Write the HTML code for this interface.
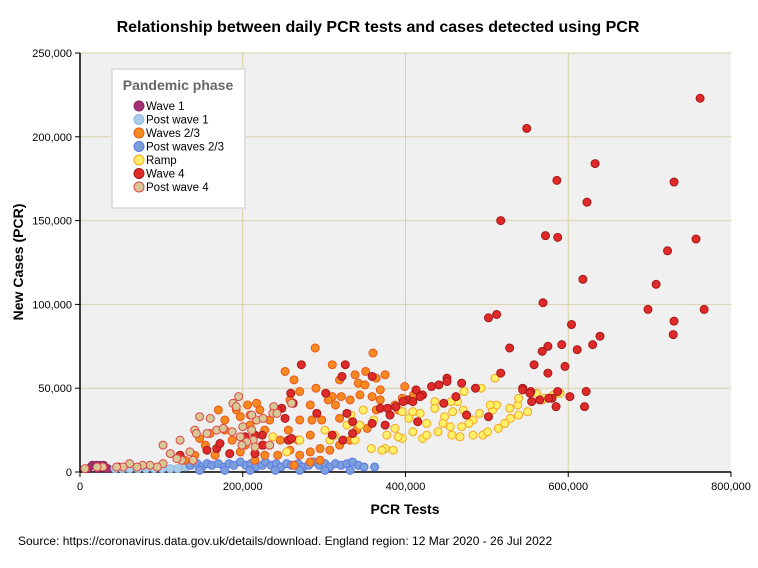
<!DOCTYPE html>
<html><head><meta charset="utf-8"><style>
body{margin:0;background:#fff;width:758px;height:563px;overflow:hidden;font-family:"Liberation Sans",sans-serif}
</style></head><body>
<svg id="chart" width="758" height="563" xmlns="http://www.w3.org/2000/svg" font-family="Liberation Sans, sans-serif">
<text x="378" y="32" text-anchor="middle" font-size="16" font-weight="bold">Relationship between daily PCR tests and cases detected using PCR</text>
<rect x="80" y="53" width="651" height="419" fill="#f0f0f0"/>
<g id="grid"></g><g id="axes"></g><g id="points"></g>
<text transform="translate(23,262) rotate(-90)" text-anchor="middle" font-size="14" font-weight="bold">New Cases (PCR)</text>
<text x="405" y="514" text-anchor="middle" font-size="14" font-weight="bold">PCR Tests</text>
<text x="18" y="545" font-size="12">Source: https://coronavirus.data.gov.uk/details/download. England region: 12 Mar 2020 - 26 Jul 2022</text>
<g id="legend"></g>
</svg>
<script>
const xTicks=[0,200000,400000,600000,800000];
const yTicks=[0,50000,100000,150000,200000,250000];
const seriesNames=["Wave 1","Post wave 1","Waves 2/3","Post waves 2/3","Ramp","Wave 4","Post wave 4"];
const fills=["#a3306f","#aacdea","#f78a1e","#7b9fd8","#fff068","#e02a2a","#d8c898"];
const strokes=["#8a2a66","#8fb8e0","#e8571e","#5c78ea","#f5a623","#a51818","#e04444"];
// values in thousands [tests, cases]
const wave1X=[10,15,20,25,29,22,34,47];
const wave1Y=[2,4,4,4,4,2,2,3];
const postWave1X=[43,52,61,71,81,91,101,111,120,130,139];
const postWave1Y=[2,2,2,2,2,2,2,2,2,3,4];
const postWaves23X=[135,144,150,156,162,170,177,183,189,197,204,210,216,224,228,235,241,247,254,260,268,274,281,287,294,301,307,314,321,328,335,342,349,362,147,178,209,240,270,301,332];
const postWaves23Y=[4,5,3,5,4,5,3,5,4,6,4,5,3,4,6,4,5,3,5,4,5,3,4,6,4,5,3,5,4,5,6,4,3,3,1,1,1,1,1,1,1];
const waves23X=[289,310,360,351,342,364,350,369,375,321,310,290,270,258,283,285,297,314,332,319,340,353,283,268,256,233,227,209,224,203,187,178,197,215,227,243,258,270,283,295,307,319,332,246,233,283,263,295,197,209,221,206,192,170,178,160,147,154,166,141,129,364,387,396,391,399,410,369,344,359,252,263,217,305,319,270,338];
const waves23Y=[74,64,71,60,53,56,52,49,58,45,45,50,48,43,40,31,31,40,43,32,25,26,22,19,25,31,25,28,16,16,19,25,12,7,10,10,13,10,12,14,13,16,19,19,16,6,4,7,33,34,37,40,37,37,31,23,20,16,10,10,7,37,40,44,37,51,46,43,46,45,60,55,41,43,55,31,58];
const rampX=[510,472,493,436,464,456,436,409,396,448,458,446,426,440,457,467,421,409,396,387,377,375,385,483,495,501,483,491,507,512,504,528,514,522,529,539,550,538,539,568,561,478,469,455,471,404,418,391,426,371,358,338,328,344,313,301,270,258,254,237,333,571,582,590,361,348,324,307];
const rampY=[56,48,50,42,42,42,38,36,36,33,36,29,29,24,22,21,20,24,20,26,22,14,13,22,22,24,31,35,37,40,40,38,26,29,32,34,36,40,44,43,47,29,27,27,37,32,35,21,22,13,14,19,28,28,22,25,19,19,12,21,34,44,46,47,31,37,19,19];
const wave4X=[762,549,633,586,730,517,623,572,587,618,722,698,757,708,569,502,512,767,730,604,639,611,575,592,528,568,729,558,630,575,544,554,602,587,580,620,622,596,565,451,451,517,469,432,441,413,421,418,486,462,447,544,553,555,576,585,403,409,397,388,475,502,415,381,375,322,302,328,335,359,369,378,248,252,262,291,310,323,335,224,215,225,256,260,215,184,168,172,156,123,203,272,326,359,259,243];
const wave4Y=[223,205,184,174,173,150,161,141,140,115,132,97,139,112,101,92,94,97,90,88,81,73,75,76,74,72,82,64,76,59,50,48,45,48,44,39,48,63,43,56,54,59,53,51,52,49,46,45,50,45,41,49,47,42,44,39,43,42,42,39,34,33,30,34,28,57,47,35,30,29,38,38,38,32,41,35,22,19,23,22,22,16,19,20,11,11,14,17,13,10,21,64,64,57,47,37];
const postWave4X=[195,188,192,141,143,156,168,176,187,200,211,217,211,225,238,237,242,260,213,205,199,135,125,119,111,139,102,95,86,77,70,61,53,45,28,21,6,197,215,233,147,160,123,102];
const postWave4Y=[45,41,39,25,23,23,25,26,24,27,25,31,34,32,39,35,35,41,19,18,16,12,7,8,11,7,5,3,4,4,3,5,3,3,3,3,2,21,15,16,33,32,19,16];
const allX=[wave1X,postWave1X,waves23X,postWaves23X,rampX,wave4X,postWave4X];
const allY=[wave1Y,postWave1Y,waves23Y,postWaves23Y,rampY,wave4Y,postWave4Y];
const drawOrder=[0,1,3,2,4,5,6];

const X0=80,X1=731,Y0=472,Y1=53;
const xs=v=>X0+(v/800000)*(X1-X0);
const ys=v=>Y0-(v/250000)*(Y0-Y1);
const NS="http://www.w3.org/2000/svg";
function mk(tag,attrs,parent){const e=document.createElementNS(NS,tag);for(const k in attrs)e.setAttribute(k,attrs[k]);parent.appendChild(e);return e;}
const grid=document.getElementById('grid'),axes=document.getElementById('axes'),pts=document.getElementById('points'),leg=document.getElementById('legend');
xTicks.forEach(t=>{
  if(t>0&&t<800000){const g=mk('line',{x1:xs(t),x2:xs(t),y1:Y1,y2:Y0,stroke:'#d8d2a6','stroke-width':1},grid);
  
  }
  const tk=mk('line',{x1:xs(t),x2:xs(t),y1:Y0,y2:Y0+5,stroke:'#000'},axes);
  
  
  const l=mk('text',{x:xs(t),y:Y0+18,'text-anchor':'middle','font-size':11},axes);
  l.textContent=t.toLocaleString('en-US');
  
  
});
yTicks.forEach(t=>{
  if(t>0){const g=mk('line',{x1:X0,x2:X1,y1:ys(t),y2:ys(t),stroke:'#d8d2a6','stroke-width':1},grid);
  
  }
  const tk=mk('line',{x1:X0-5,x2:X0,y1:ys(t),y2:ys(t),stroke:'#000'},axes);
  
  
  const l=mk('text',{x:X0-8,y:ys(t)+4,'text-anchor':'end','font-size':11},axes);
  l.textContent=t.toLocaleString('en-US');
  
  
});
const ax1=mk('line',{x1:X0,x2:X0,y1:Y1,y2:Y0,stroke:'#000','stroke-width':1.5},axes);


const ax2=mk('line',{x1:X0,x2:X1,y1:Y0,y2:Y0,stroke:'#000','stroke-width':1.5},axes);


drawOrder.forEach(si=>{
  const X=allX[si],Y=allY[si];
  for(let i=0;i<X.length;i++){
    const c=mk('circle',{cx:xs(X[i]*1000),cy:ys(Y[i]*1000),r:4,fill:fills[si],stroke:strokes[si],'stroke-width':1},pts);
    
    
  }
});
mk('rect',{x:112,y:69,width:133,height:139,fill:'#fff',stroke:'#e0e0e0','stroke-width':2},leg);
const lt=mk('text',{x:178,y:90,'text-anchor':'middle','font-size':14,'font-weight':'bold',fill:'#666'},leg);
lt.textContent='Pandemic phase';


seriesNames.forEach((n,i)=>{
  const y=106+i*13.5;
  const c=mk('circle',{cx:139,cy:y,r:5,fill:fills[i],stroke:strokes[i],'stroke-width':1},leg);
  
  
  const t=mk('text',{x:146,y:y+4,'font-size':11.5},leg);
  t.textContent=n;
  
  
});
</script>
</body></html>
